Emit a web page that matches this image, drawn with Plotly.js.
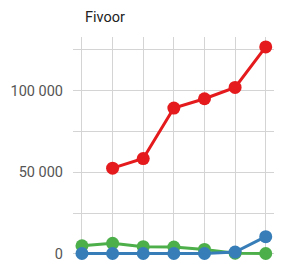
<!DOCTYPE html>
<html>
<head>
<meta charset="utf-8">
<script src="https://cdn.plot.ly/plotly-3.0.1.min.js"></script>
<style>html,body{margin:0;padding:0;background:#fff;}#chart{width:282px;height:260px;}</style>
</head>
<body>
<div id="chart"></div>
<script>
const periods = [0, 1, 2, 3, 4, 5, 6];
const redValues = [null, 52500, 58400, 89300, 95000, 101900, 126700];
const greenValues = [5000, 6500, 4500, 4200, 2800, 500, 300];
const blueValues = [300, 300, 300, 300, 300, 1200, 10600];
const yTickVals = [0, 25000, 50000, 75000, 100000, 125000];
const yTickText = ['0', '', '50 000', '', '100 000', ''];
const titleText = 'Fivoor';

const mk = (y, color) => ({
  x: periods, y: y, type: 'scatter', mode: 'lines+markers',
  line: {color: color, width: 3}, marker: {color: color, size: 13},
  connectgaps: false, hoverinfo: 'none', cliponaxis: false
});

const data = [
  mk(redValues, '#e41a1c'),
  mk(greenValues, '#4daf4a'),
  mk(blueValues, '#377eb8')
];

const layout = {
  width: 282, height: 260,
  margin: {l: 73, r: 8, t: 37, b: 0, pad: 0},
  paper_bgcolor: '#fff', plot_bgcolor: '#fff',
  showlegend: false,
  font: {family: 'Roboto, sans-serif', size: 14, color: '#555'},
  title: {text: titleText, font: {family: 'Roboto, sans-serif', size: 14.5, color: '#222'},
          xref: 'container', x: 85/282, xanchor: 'left', yref: 'container', y: 1 - 17/260, yanchor: 'middle'},
  xaxis: {range: [-0.293, 6.27], tickmode: 'linear', tick0: 0, dtick: 1, showticklabels: false,
          showgrid: true, gridcolor: '#d4d4d4', gridwidth: 1, zeroline: false, showline: false, ticks: ''},
  yaxis: {range: [-3680, 132780], tickmode: 'array', tickvals: yTickVals, ticktext: yTickText,
          showgrid: true, gridcolor: '#d4d4d4', gridwidth: 1, zeroline: false, showline: false,
          ticks: '', ticklabelstandoff: 9, ticklabeloverflow: 'allow', tickfont: {size: 14.5, color: '#555'}}
};

Plotly.newPlot('chart', data, layout, {staticPlot: true, displayModeBar: false});
</script>
</body>
</html>
